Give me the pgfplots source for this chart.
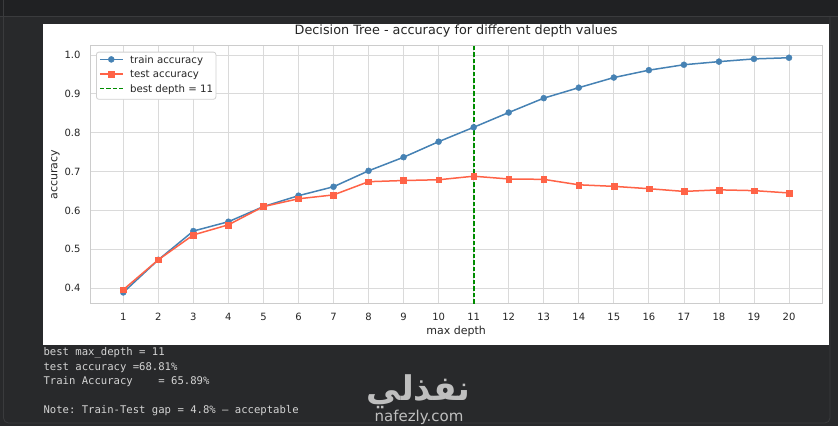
\documentclass[border=0pt]{standalone}
\usepackage{pgfplots}
\pgfplotsset{compat=1.18}
\usepackage{fontspec}
\setmainfont{DejaVu Sans}
\setmonofont{DejaVu Sans Mono}
\newfontfamily\arabicfont[Script=Arabic]{DejaVu Sans}
\TeXXeTstate=1
\definecolor{bgdark}{HTML}{28292B}
\definecolor{bgtop}{HTML}{202123}
\definecolor{lineg}{HTML}{3A3B3D}
\definecolor{termtext}{HTML}{D4D4D4}
\definecolor{wm}{HTML}{BFBFBF}
\definecolor{gridgray}{HTML}{DADADA}
\definecolor{spinegray}{HTML}{CCCCCC}
\definecolor{labelgray}{HTML}{262626}
\definecolor{legendgray}{HTML}{D0D0D0}
\definecolor{trainblue}{RGB}{70,130,180}
\definecolor{testred}{RGB}{255,99,71}
\definecolor{bestgreen}{RGB}{0,140,0}
\begin{document}
\begin{tikzpicture}[x=1pt,y=1pt]
% background (screenshot)
\fill[bgdark] (0,0) rectangle (838,426);
\fill[bgtop] (0,410) rectangle (838,426);
\draw[lineg, line width=0.8pt] (0,410) -- (838,410);
\draw[lineg, line width=0.8pt] (3.5,426) -- (3.5,410);
\draw[lineg, line width=0.8pt, rounded corners=5pt] (3.5,410) -- (3.5,3) -- (830,3) -- (830,410);
\fill[white] (43,81) rectangle (829.3,402);
\begin{axis}[
  at={(90pt,122.3pt)}, anchor=south west,
  scale only axis, width=732.3pt, height=258pt,
  xmin=0.05, xmax=20.95, ymin=0.360, ymax=1.024,
  xtick={1,2,3,4,5,6,7,8,9,10,11,12,13,14,15,16,17,18,19,20},
  ytick={0.4,0.5,0.6,0.7,0.8,0.9,1.0},
  grid=major,
  major grid style={draw=gridgray, line width=0.8pt},
  axis line style={draw=spinegray, line width=1pt},
  major tick length=0pt,
  tick style={draw=none},
  /pgf/number format/assume math mode=true,
  tick label style={font=\fontsize{10}{12}\selectfont, text=labelgray},
  xticklabel style={anchor=north, inner sep=0pt, yshift=-9pt},
  yticklabel style={anchor=east, inner sep=0pt, xshift=-9.3pt,
    /pgf/number format/.cd, fixed, fixed zerofill, precision=1},
  xlabel={max depth},
  ylabel={accuracy},
  xlabel style={at={(axis description cs:0.5,-0.1194)}, anchor=base, inner sep=0pt,
    font=\fontsize{11}{13}\selectfont, text=labelgray},
  ylabel style={at={(axis description cs:-0.0445,0.5)}, anchor=base, inner sep=0pt,
    font=\fontsize{11}{13}\selectfont, text=labelgray},
  title={Decision Tree - accuracy for different depth values},
  title style={at={(axis description cs:0.5,1.0202)}, anchor=base, inner sep=0pt,
    font=\fontsize{12.8}{15}\selectfont, text=labelgray},
  legend cell align=left,
  legend style={at={(axis description cs:0.0082,0.9767)}, anchor=north west,
    draw=legendgray, line width=0.8pt, fill=white, rounded corners=2.5pt,
    font=\fontsize{10.2}{12}\selectfont, text=labelgray,
    inner xsep=2.8pt, inner ysep=3.5pt, row sep=3.6pt, column sep=6.7pt,
    nodes={inner sep=0pt, text height=7.5pt, text depth=3.5pt},
    cells={anchor=west}},
  legend image code/.code={\draw[mark repeat=2, mark phase=2]
    plot coordinates {(0pt,1.7pt) (11.35pt,1.7pt) (22.7pt,1.7pt)};},
]
\addplot[color=trainblue, line width=1.5pt, mark=*, mark size=3pt,
  mark options={solid, fill=trainblue, draw=trainblue, line width=0.4pt}]
coordinates {
(1,0.389) (2,0.473) (3,0.547) (4,0.571) (5,0.610) (6,0.638) (7,0.661)
(8,0.702) (9,0.737) (10,0.777) (11,0.814) (12,0.852) (13,0.889) (14,0.916)
(15,0.942) (16,0.961) (17,0.975) (18,0.983) (19,0.990) (20,0.993)
};
\addlegendentry{train accuracy}
\addplot[color=testred, line width=1.5pt, mark=square*, mark size=2.9pt,
  mark options={solid, fill=testred, draw=testred, line width=0.4pt}]
coordinates {
(1,0.396) (2,0.473) (3,0.537) (4,0.563) (5,0.610) (6,0.630) (7,0.640)
(8,0.674) (9,0.677) (10,0.679) (11,0.6881) (12,0.681) (13,0.680) (14,0.666)
(15,0.662) (16,0.656) (17,0.649) (18,0.653) (19,0.651) (20,0.645)
};
\addlegendentry{test accuracy}
\addplot[draw=bestgreen, color=bestgreen, line width=1.8pt, dash pattern=on 4.5pt off 2pt,
  legend image post style={line width=1.5pt}]
coordinates {(11,0.360) (11,1.024)};
\addlegendentry{best depth = 11}
\end{axis}
% printed output below the figure
\begin{scope}[every node/.style={anchor=base west, inner sep=0pt, text=termtext,
    font=\ttfamily\fontsize{10.6}{12}\selectfont}]
\node at (43.3,70.5) {best max\_depth = 11};
\node at (43.3,56) {test accuracy =68.81\%};
\node at (43.3,41.5) {Train Accuracy\ \ \ \ = 65.89\%};
\node at (43.3,13) {Note: Train-Test gap = 4.8\% — acceptable};
\end{scope}
% watermark
\node[inner sep=0pt, text=wm, font=\arabicfont\bfseries\fontsize{34}{34}\selectfont]
  at (418.7,34) {\beginR نفذلي\endR};
\node[anchor=base, inner sep=0pt, text=wm, font=\fontsize{15}{15}\selectfont]
  at (419,4.3) {nafezly.com};
\pgfresetboundingbox
\path[use as bounding box] (0,0) rectangle (838,426);
\end{tikzpicture}
\end{document}
